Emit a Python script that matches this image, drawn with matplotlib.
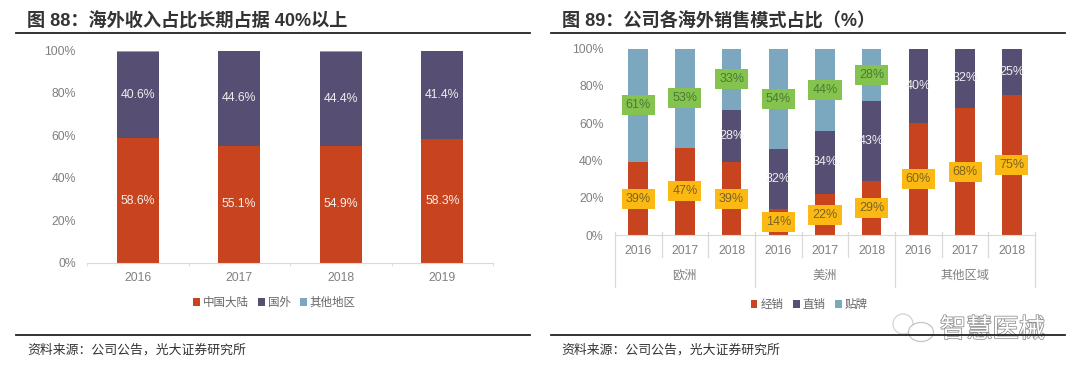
import matplotlib
matplotlib.use("Agg")
import matplotlib.pyplot as plt
import matplotlib.patheffects as pe
from matplotlib.patches import Ellipse

plt.rcParams["font.family"] = ["Liberation Sans", "Noto Sans CJK SC", "DejaVu Sans"]

W, H = 1080, 376

# left chart
years_l = ["2016", "2017", "2018", "2019"]
mainland = [58.6, 55.1, 54.9, 58.3]
overseas = [40.6, 44.6, 44.4, 41.4]
other_area = [0.8, 0.6, 0.7, 0.6]

# right chart
years_r = ["2016", "2017", "2018"] * 3
regions = ["欧洲", "美洲", "其他区域"]
dist = [39, 47, 39, 14, 22, 29, 60, 68, 75]
direct = [0, 0, 28, 32, 34, 43, 40, 32, 25]
oem = [61, 53, 33, 54, 44, 28, 0, 0, 0]

RED = "#c8441f"
PURPLE = "#574f73"
BLUE = "#7ba7bf"
GREY = "#808080"
AXIS = "#d9d9d9"


def px_axes(fig, left, top, right, bottom):
    ax = fig.add_axes([left / W, 1 - bottom / H, (right - left) / W, (bottom - top) / H])
    ax.patch.set_alpha(0)
    for s in ["top", "right", "left"]:
        ax.spines[s].set_visible(False)
    ax.spines["bottom"].set_color(AXIS)
    ax.set_ylim(0, 100)
    ax.set_yticks(range(0, 101, 20))
    ax.set_yticklabels([f"{v}%" for v in range(0, 101, 20)])
    ax.tick_params(axis="y", length=0, labelsize=8.8, labelcolor=GREY, pad=8)
    return ax


def fig_text(fig, x, y, s, **kw):
    fig.text(x / W, 1 - y / H, s, va="center", **kw)


def frame(fig, left, right, title, title_x):
    fig.add_artist(plt.Line2D([left / W, right / W], [1 - 33 / H] * 2, color="#222222", lw=1.3))
    fig.add_artist(plt.Line2D([left / W, right / W], [1 - 334.5 / H] * 2, color="#222222", lw=1.3))
    fig_text(fig, title_x, 21.5, title, fontsize=13.1, fontweight="bold", color="#333333")
    fig_text(fig, title_x, 350.5, "资料来源：公司公告，光大证券研究所", fontsize=9.25, color="#333333")


def legend(fig, handles, names, x, y):
    fig.legend(
        handles,
        names,
        ncol=3,
        loc="center",
        bbox_to_anchor=(x / W, 1 - y / H),
        frameon=False,
        fontsize=8.3,
        labelcolor="#666666",
        handlelength=0.6,
        handleheight=0.6,
        handletextpad=0.25,
        columnspacing=0.8,
    )


def main():
    fig = plt.figure(figsize=(W / 100, H / 100), dpi=100)

    # 图 88
    ax = px_axes(fig, 87, 50.5, 493, 262.7)
    x = range(len(years_l))
    b1 = ax.bar(x, mainland, width=0.41, color=RED)
    b2 = ax.bar(x, overseas, width=0.41, bottom=mainland, color=PURPLE)
    bottoms = [a + b for a, b in zip(mainland, overseas)]
    b3 = ax.bar(x, other_area, width=0.41, bottom=bottoms, color=BLUE)
    ax.set_xlim(-0.5, 3.5)
    ax.set_xticks([i - 0.5 for i in range(5)], minor=True)
    ax.tick_params(axis="x", which="minor", length=2, color=AXIS)
    ax.set_xticks(list(x))
    ax.set_xticklabels(years_l)
    ax.tick_params(axis="x", which="major", length=0, labelsize=8.8, labelcolor=GREY, pad=6.5)
    for i in x:
        ax.text(i, mainland[i] / 2, f"{mainland[i]}%", color="#f5f0ee", fontsize=8.8, ha="center", va="center")
        ax.text(i, mainland[i] + overseas[i] / 2, f"{overseas[i]}%", color="#eeeeee", fontsize=8.8, ha="center", va="center")
    legend(fig, [b1, b2, b3], ["中国大陆", "国外", "其他地区"], 274.5, 303)
    frame(fig, 16, 530, "图 88：海外收入占比长期占据 40%以上", 27)

    # 图 89
    ax = px_axes(fig, 614.8, 48.5, 1035.2, 235.3)
    x = range(len(years_r))
    b1 = ax.bar(x, dist, width=0.415, color=RED)
    b2 = ax.bar(x, direct, width=0.415, bottom=dist, color=PURPLE)
    bottoms = [a + b for a, b in zip(dist, direct)]
    b3 = ax.bar(x, oem, width=0.415, bottom=bottoms, color=BLUE)
    ax.set_xlim(-0.5, 8.5)
    ax.set_xticks(list(x))
    ax.set_xticklabels(years_r)
    ax.tick_params(axis="x", which="major", length=0, labelsize=8.8, labelcolor=GREY, pad=7)
    trans = ax.get_xaxis_transform()
    for i in range(10):
        low = -0.118 if i % 3 else -0.278
        ax.plot([i - 0.5, i - 0.5], [0.015, low], transform=trans, color=AXIS, lw=0.9, clip_on=False)
    for k, name in enumerate(regions):
        ax.text(3 * k + 1, -0.218, name, transform=trans, ha="center", va="center", fontsize=8.8, color=GREY)
    for i in x:
        ax.text(i, dist[i] / 2, f"{dist[i]}%", color="#7a6420", fontsize=9, ha="center", va="center",
                bbox=dict(boxstyle="square,pad=0.32", fc="#fdb913", ec="none"))
        if direct[i]:
            ax.text(i, dist[i] + direct[i] / 2, f"{direct[i]}%", color="#eeeeee", fontsize=9, ha="center", va="center")
        if oem[i]:
            ax.text(i, bottoms[i] + oem[i] / 2, f"{oem[i]}%", color="#4a7a35", fontsize=9, ha="center", va="center",
                    bbox=dict(boxstyle="square,pad=0.32", fc="#84c44e", ec="none"))
    legend(fig, [b1, b2, b3], ["经销", "直销", "贴牌"], 809, 305)
    frame(fig, 551, 1064.5, "图 89：公司各海外销售模式占比（%）", 561.7)

    # watermark
    wm = fig.add_axes([0, 0, 1, 1])
    wm.set_xlim(0, W)
    wm.set_ylim(H, 0)
    wm.axis("off")
    wm.add_patch(Ellipse((903, 324), 20, 20, fc="white", ec="#cccccc", lw=0.9, alpha=0.85))
    wm.add_patch(Ellipse((921, 332), 25, 19, fc="white", ec="#bbbbbb", lw=0.9, alpha=0.85))
    wm.text(940, 330, "智慧医械", fontsize=18.9, color="white", va="center",
            path_effects=[pe.withStroke(linewidth=1.1, foreground="#8c8c8c")])

    fig.savefig("out.png", dpi=100)


if __name__ == "__main__":
    main()
